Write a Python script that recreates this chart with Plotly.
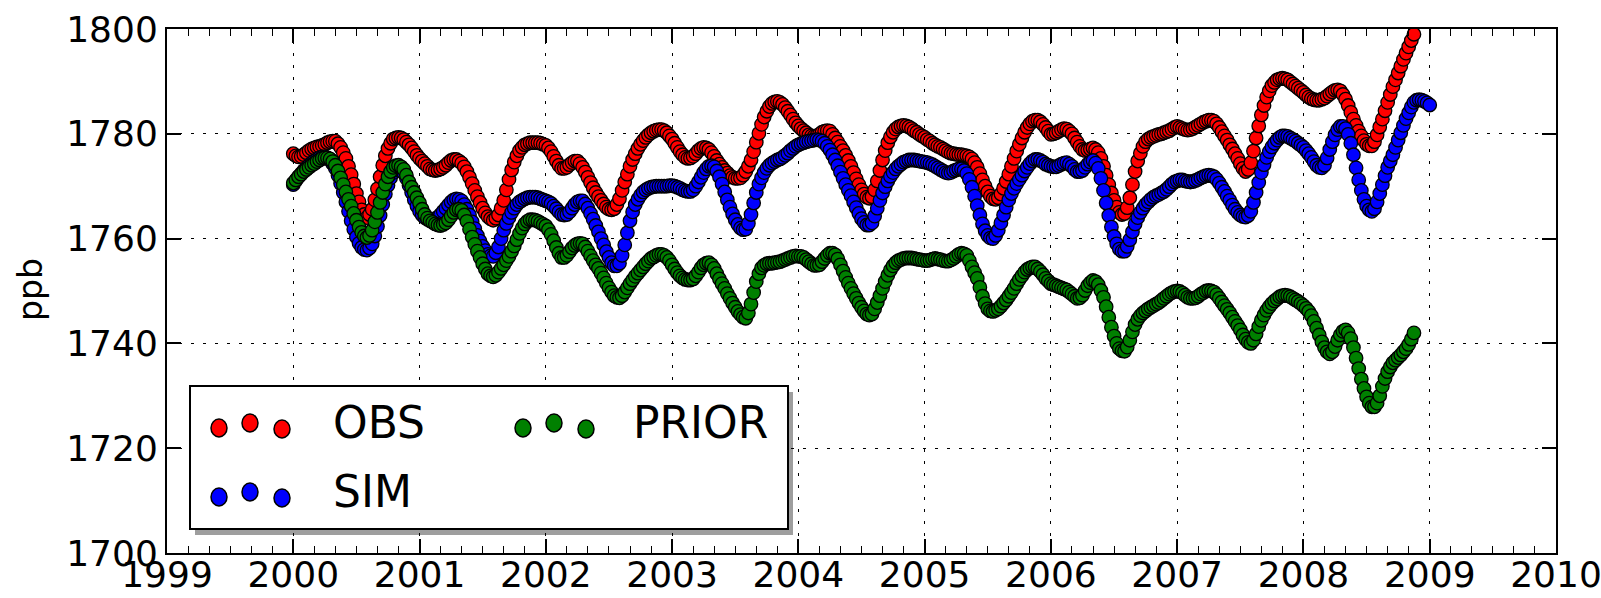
import plotly.graph_objects as go

# ---------------------------------------------------------------------------
# CH4 mole fractions (ppb), 48 samples per year, first sample at 2000.0
# ---------------------------------------------------------------------------
START_YEAR = 2000
SAMPLES_PER_YEAR = 48

obs_ppb = [
    # 2000
    1776.2, 1775.8, 1775.6, 1775.7, 1776.0, 1776.4, 1776.8, 1777.1, 1777.3, 1777.5, 1777.6, 1777.8,
    1778.0, 1778.3, 1778.5, 1778.6, 1778.6, 1778.1, 1777.4, 1776.4, 1775.3, 1773.8, 1772.2, 1770.4,
    1768.6, 1767.0, 1765.5, 1764.6, 1764.0, 1764.6, 1765.6, 1767.4, 1769.5, 1771.8, 1774.0, 1775.8,
    1777.2, 1778.2, 1779.0, 1779.2, 1779.3, 1779.2, 1778.9, 1778.4, 1777.9, 1777.3, 1776.6, 1775.9,
    # 2001
    1775.3, 1774.8, 1774.3, 1773.8, 1773.3, 1773.1, 1773.0, 1773.1, 1773.3, 1773.6, 1774.0, 1774.5,
    1774.9, 1775.1, 1775.1, 1774.8, 1774.4, 1773.7, 1772.8, 1771.7, 1770.5, 1769.2, 1768.0, 1766.9,
    1765.8, 1764.9, 1764.2, 1763.8, 1763.5, 1763.9, 1764.5, 1765.8, 1767.3, 1769.3, 1771.3, 1773.1,
    1774.6, 1775.8, 1776.8, 1777.4, 1777.9, 1778.1, 1778.3, 1778.3, 1778.3, 1778.3, 1778.2, 1778.0,
    # 2002
    1777.8, 1777.3, 1776.6, 1775.7, 1774.8, 1774.0, 1773.4, 1773.4, 1773.6, 1774.1, 1774.5, 1774.8,
    1774.8, 1774.3, 1773.6, 1772.7, 1771.7, 1770.7, 1769.7, 1768.8, 1768.0, 1767.3, 1766.6, 1766.0,
    1765.6, 1765.5, 1765.7, 1766.5, 1767.6, 1769.2, 1770.8, 1772.3, 1773.8, 1775.1, 1776.2, 1777.2,
    1778.0, 1778.7, 1779.3, 1779.8, 1780.2, 1780.5, 1780.7, 1780.8, 1780.8, 1780.6, 1780.2, 1779.6,
    # 2003
    1779.0, 1778.2, 1777.4, 1776.6, 1776.0, 1775.5, 1775.3, 1775.4, 1775.7, 1776.2, 1776.8, 1777.2,
    1777.4, 1777.3, 1777.0, 1776.4, 1775.7, 1774.9, 1774.2, 1773.6, 1773.0, 1772.5, 1772.0, 1771.7,
    1771.5, 1771.5, 1771.6, 1772.1, 1772.8, 1773.8, 1775.0, 1776.6, 1778.4, 1780.1, 1781.8, 1783.2,
    1784.3, 1785.2, 1785.8, 1786.1, 1786.2, 1786.0, 1785.6, 1785.0, 1784.3, 1783.6, 1782.8, 1782.1,
    # 2004
    1781.5, 1781.0, 1780.6, 1780.2, 1779.8, 1779.6, 1779.5, 1779.6, 1779.9, 1780.3, 1780.5, 1780.6,
    1780.5, 1779.9, 1779.2, 1778.4, 1777.6, 1776.8, 1775.9, 1774.9, 1773.8, 1772.6, 1771.4, 1770.3,
    1769.3, 1768.5, 1767.9, 1767.7, 1768.0, 1769.3, 1771.0, 1773.0, 1775.0, 1776.8, 1778.3, 1779.4,
    1780.3, 1780.9, 1781.3, 1781.5, 1781.6, 1781.5, 1781.3, 1781.0, 1780.6, 1780.3, 1779.9, 1779.6,
    # 2005
    1779.3, 1778.9, 1778.6, 1778.2, 1777.9, 1777.6, 1777.4, 1777.1, 1776.8, 1776.5, 1776.3, 1776.2,
    1776.1, 1776.0, 1776.0, 1775.9, 1775.8, 1775.6, 1775.2, 1774.5, 1773.6, 1772.4, 1771.2, 1770.0,
    1768.9, 1768.1, 1767.6, 1767.5, 1767.8, 1768.5, 1769.6, 1770.9, 1772.3, 1773.8, 1775.3, 1776.7,
    1778.0, 1779.2, 1780.3, 1781.2, 1781.9, 1782.4, 1782.6, 1782.6, 1782.3, 1781.8, 1781.2, 1780.5,
    # 2006
    1779.9, 1780.0, 1780.2, 1780.5, 1780.8, 1781.0, 1780.9, 1780.5, 1780.0, 1779.2, 1778.4, 1777.6,
    1777.0, 1776.8, 1776.9, 1777.1, 1777.3, 1777.0, 1776.4, 1775.3, 1773.8, 1772.1, 1770.3, 1768.7,
    1767.3, 1766.0, 1765.0, 1764.6, 1764.8, 1765.9, 1767.8, 1770.3, 1772.8, 1774.8, 1776.3, 1777.6,
    1778.5, 1779.0, 1779.3, 1779.5, 1779.7, 1779.9, 1780.0, 1780.2, 1780.4, 1780.6, 1780.9, 1781.2,
    # 2007
    1781.4, 1781.2, 1781.0, 1780.8, 1780.7, 1780.8, 1781.0, 1781.3, 1781.6, 1781.9, 1782.2, 1782.4,
    1782.6, 1782.6, 1782.4, 1781.9, 1781.2, 1780.4, 1779.6, 1778.8, 1777.9, 1777.1, 1776.2, 1775.3,
    1774.3, 1773.4, 1772.8, 1773.2, 1774.5, 1776.7, 1779.2, 1781.5, 1783.6, 1785.4, 1787.0, 1788.2,
    1789.2, 1789.8, 1790.3, 1790.5, 1790.6, 1790.5, 1790.3, 1789.9, 1789.5, 1789.1, 1788.7, 1788.3,
    # 2008
    1787.9, 1787.4, 1787.0, 1786.7, 1786.5, 1786.4, 1786.4, 1786.6, 1786.8, 1787.2, 1787.6, 1788.0,
    1788.3, 1788.4, 1788.2, 1787.5, 1786.6, 1785.4, 1784.1, 1782.8, 1781.6, 1780.5, 1779.6, 1778.7,
    1778.0, 1777.7, 1777.7, 1778.5, 1779.8, 1781.3, 1782.8, 1784.4, 1786.0, 1787.5, 1789.0, 1790.3,
    1791.6, 1792.9, 1794.2, 1795.4, 1796.6, 1797.8, 1799.0,
]

sim_ppb = [
    # 2000
    1770.3, 1771.1, 1771.8, 1772.4, 1773.0, 1773.5, 1774.0, 1774.4, 1774.8, 1775.1, 1775.4, 1775.6,
    1775.6, 1775.4, 1775.0, 1774.3, 1773.4, 1772.1, 1770.5, 1768.8, 1767.0, 1765.2, 1763.4, 1761.8,
    1760.3, 1759.1, 1758.3, 1757.9, 1757.8, 1758.2, 1759.0, 1760.5, 1762.3, 1764.4, 1766.5, 1768.5,
    1770.2, 1771.6, 1772.6, 1773.1, 1773.4, 1773.1, 1772.5, 1771.5, 1770.2, 1768.8, 1767.4, 1766.2,
    # 2001
    1765.2, 1764.5, 1764.0, 1763.7, 1763.6, 1763.6, 1763.8, 1764.1, 1764.6, 1765.2, 1765.8, 1766.4,
    1767.0, 1767.4, 1767.6, 1767.5, 1767.2, 1766.5, 1765.6, 1764.5, 1763.2, 1761.9, 1760.6, 1759.5,
    1758.5, 1757.7, 1757.0, 1756.7, 1756.6, 1757.3, 1758.4, 1760.0, 1761.6, 1762.9, 1764.0, 1765.0,
    1765.8, 1766.5, 1767.0, 1767.3, 1767.6, 1767.8, 1767.9, 1767.9, 1767.9, 1767.8, 1767.6, 1767.4,
    # 2002
    1767.2, 1767.0, 1766.7, 1766.2, 1765.7, 1765.1, 1764.6, 1764.5, 1764.6, 1765.1, 1765.8, 1766.5,
    1767.0, 1767.2, 1767.2, 1766.6, 1765.8, 1764.8, 1763.7, 1762.5, 1761.3, 1760.0, 1758.8, 1757.5,
    1756.4, 1755.4, 1754.8, 1754.8, 1755.3, 1756.8, 1758.8, 1761.1, 1763.4, 1765.1, 1766.5, 1767.5,
    1768.3, 1768.9, 1769.3, 1769.6, 1769.8, 1769.9, 1770.0, 1770.0, 1770.0, 1770.0, 1770.0, 1770.1,
    # 2003
    1770.1, 1770.0, 1769.8, 1769.6, 1769.3, 1769.1, 1769.0, 1769.0, 1769.3, 1770.0, 1770.8, 1771.7,
    1772.6, 1773.3, 1773.8, 1773.9, 1773.7, 1772.9, 1771.8, 1770.4, 1768.9, 1767.4, 1766.0, 1764.7,
    1763.6, 1762.7, 1762.0, 1761.7, 1761.8, 1762.9, 1764.6, 1766.8, 1768.8, 1770.4, 1771.6, 1772.6,
    1773.4, 1774.0, 1774.4, 1774.7, 1775.0, 1775.2, 1775.5, 1775.9, 1776.3, 1776.8, 1777.2, 1777.6,
    # 2004
    1777.9, 1778.1, 1778.3, 1778.5, 1778.6, 1778.7, 1778.8, 1778.9, 1778.8, 1778.6, 1778.2, 1777.6,
    1776.9, 1776.0, 1775.0, 1773.9, 1772.7, 1771.5, 1770.3, 1769.2, 1768.2, 1767.0, 1765.9, 1764.8,
    1763.8, 1763.1, 1762.6, 1762.6, 1763.0, 1764.3, 1765.8, 1767.3, 1768.7, 1769.9, 1771.0, 1771.9,
    1772.6, 1773.3, 1773.8, 1774.2, 1774.6, 1774.8, 1775.0, 1775.0, 1775.0, 1774.9, 1774.8, 1774.7,
    # 2005
    1774.6, 1774.5, 1774.3, 1774.1, 1773.8, 1773.5, 1773.2, 1772.9, 1772.6, 1772.5, 1772.6, 1772.9,
    1773.1, 1773.3, 1773.3, 1773.0, 1772.4, 1771.3, 1769.8, 1768.1, 1766.3, 1764.5, 1762.8, 1761.5,
    1760.6, 1760.1, 1760.0, 1760.6, 1761.6, 1763.0, 1764.5, 1766.0, 1767.4, 1768.6, 1769.6, 1770.5,
    1771.3, 1772.1, 1772.9, 1773.6, 1774.3, 1774.8, 1775.1, 1775.1, 1774.9, 1774.6, 1774.2, 1774.0,
    # 2006
    1773.8, 1773.7, 1773.7, 1773.9, 1774.2, 1774.4, 1774.5, 1774.2, 1773.8, 1773.2, 1772.8, 1772.8,
    1773.0, 1773.6, 1774.2, 1774.6, 1774.9, 1774.4, 1773.4, 1771.5, 1769.2, 1766.8, 1764.4, 1762.2,
    1760.4, 1759.0, 1758.0, 1757.6, 1757.6, 1758.5, 1759.8, 1761.3, 1762.8, 1764.0, 1765.0, 1765.8,
    1766.5, 1767.0, 1767.5, 1767.9, 1768.2, 1768.4, 1768.7, 1769.0, 1769.4, 1769.9, 1770.4, 1770.8,
    # 2007
    1771.0, 1771.2, 1771.2, 1771.0, 1770.9, 1770.8, 1770.9, 1771.1, 1771.3, 1771.6, 1771.8, 1772.0,
    1772.1, 1772.0, 1771.8, 1771.3, 1770.6, 1769.8, 1769.0, 1768.1, 1767.3, 1766.4, 1765.6, 1765.0,
    1764.5, 1764.2, 1764.1, 1764.4, 1765.2, 1766.9, 1768.8, 1770.7, 1772.6, 1774.1, 1775.5, 1776.6,
    1777.5, 1778.2, 1778.8, 1779.3, 1779.6, 1779.6, 1779.5, 1779.2, 1778.9, 1778.6, 1778.2, 1777.8,
    # 2008
    1777.4, 1776.8, 1776.2, 1775.5, 1774.7, 1774.0, 1773.6, 1773.5, 1774.0, 1775.4, 1777.0, 1778.5,
    1779.8, 1780.8, 1781.4, 1781.4, 1781.0, 1779.9, 1778.2, 1776.0, 1773.5, 1771.2, 1769.2, 1767.5,
    1766.2, 1765.5, 1765.2, 1765.7, 1767.0, 1768.6, 1770.3, 1772.0, 1773.6, 1774.8, 1776.0, 1777.4,
    1778.8, 1780.2, 1781.6, 1782.9, 1784.0, 1785.1, 1786.0, 1786.4, 1786.5, 1786.4, 1786.2, 1785.9,
    # 2009
    1785.5,
]

prior_ppb = [
    # 2000
    1770.6, 1771.2, 1771.8, 1772.3, 1772.8, 1773.2, 1773.6, 1774.0, 1774.3, 1774.7, 1775.0, 1775.3,
    1775.4, 1775.4, 1775.2, 1774.7, 1774.0, 1772.9, 1771.6, 1770.3, 1768.9, 1767.5, 1766.2, 1764.8,
    1763.5, 1762.2, 1761.2, 1760.5, 1760.2, 1760.6, 1761.6, 1763.2, 1765.0, 1766.9, 1768.8, 1770.4,
    1771.8, 1772.8, 1773.6, 1773.9, 1774.0, 1773.7, 1773.2, 1772.1, 1770.8, 1769.8, 1768.8, 1767.8,
    # 2001
    1766.8, 1765.6, 1764.6, 1763.9, 1763.4, 1763.1, 1762.8, 1762.6, 1762.5, 1762.7, 1763.0, 1763.6,
    1764.3, 1765.0, 1765.5, 1765.6, 1765.4, 1764.5, 1763.3, 1761.8, 1760.3, 1758.9, 1757.6, 1756.4,
    1755.2, 1754.2, 1753.3, 1752.9, 1752.7, 1753.0, 1753.6, 1754.3, 1755.0, 1755.8, 1756.6, 1757.6,
    1758.6, 1759.8, 1761.0, 1762.0, 1762.8, 1763.3, 1763.6, 1763.6, 1763.5, 1763.3, 1763.0, 1762.7,
    # 2002
    1762.4, 1761.7, 1760.8, 1759.6, 1758.3, 1757.2, 1756.4, 1756.4, 1756.8, 1757.5, 1758.2, 1758.7,
    1759.0, 1759.1, 1759.0, 1758.4, 1757.6, 1756.7, 1755.8, 1755.0, 1754.3, 1753.4, 1752.5, 1751.5,
    1750.6, 1749.8, 1749.1, 1748.8, 1748.7, 1749.1, 1749.8, 1750.6, 1751.4, 1752.1, 1752.8, 1753.4,
    1754.0, 1754.6, 1755.2, 1755.7, 1756.2, 1756.5, 1756.8, 1757.0, 1757.0, 1756.8, 1756.4, 1755.8,
    # 2003
    1755.0, 1754.2, 1753.5, 1752.9, 1752.5, 1752.2, 1752.1, 1752.1, 1752.3, 1752.9, 1753.6, 1754.4,
    1755.0, 1755.3, 1755.4, 1755.0, 1754.3, 1753.3, 1752.3, 1751.4, 1750.5, 1749.5, 1748.6, 1747.7,
    1746.9, 1746.1, 1745.5, 1745.0, 1744.8, 1745.8, 1747.5, 1749.7, 1751.8, 1753.3, 1754.4, 1754.9,
    1755.2, 1755.3, 1755.3, 1755.4, 1755.5, 1755.6, 1755.8, 1756.0, 1756.2, 1756.4, 1756.6, 1756.7,
    # 2004
    1756.6, 1756.6, 1756.4, 1756.0, 1755.6, 1755.2, 1754.9, 1754.9, 1755.0, 1755.6, 1756.2, 1756.8,
    1757.2, 1757.2, 1756.9, 1756.1, 1755.0, 1753.8, 1752.6, 1751.5, 1750.5, 1749.5, 1748.6, 1747.7,
    1746.9, 1746.2, 1745.6, 1745.4, 1745.6, 1746.6, 1747.8, 1749.1, 1750.5, 1751.8, 1753.0, 1754.0,
    1754.8, 1755.4, 1755.8, 1756.0, 1756.2, 1756.3, 1756.3, 1756.3, 1756.2, 1756.1, 1756.0, 1755.9,
    # 2005
    1755.8, 1755.8, 1755.9, 1756.1, 1756.2, 1756.1, 1756.0, 1755.8, 1755.7, 1755.7, 1755.9, 1756.2,
    1756.6, 1757.0, 1757.2, 1757.1, 1756.8, 1755.8, 1754.6, 1753.5, 1752.4, 1750.7, 1749.0, 1747.6,
    1746.6, 1746.2, 1746.1, 1746.3, 1746.6, 1747.1, 1747.7, 1748.3, 1749.0, 1749.7, 1750.5, 1751.4,
    1752.2, 1752.9, 1753.6, 1754.1, 1754.4, 1754.6, 1754.6, 1754.2, 1753.7, 1753.1, 1752.4, 1751.9,
    # 2006
    1751.4, 1751.2, 1751.0, 1750.8, 1750.6, 1750.4, 1750.2, 1749.8, 1749.4, 1749.0, 1748.6, 1748.7,
    1749.2, 1750.1, 1751.0, 1751.6, 1752.0, 1751.8, 1751.2, 1750.1, 1748.8, 1747.0, 1745.0, 1743.1,
    1741.4, 1740.0, 1739.0, 1738.6, 1738.5, 1739.3, 1740.6, 1742.2, 1743.6, 1744.6, 1745.3, 1745.8,
    1746.2, 1746.6, 1746.9, 1747.2, 1747.5, 1747.8, 1748.2, 1748.6, 1749.0, 1749.4, 1749.7, 1749.9,
    # 2007
    1750.0, 1749.9, 1749.6, 1749.2, 1748.8, 1748.6, 1748.6, 1748.7, 1749.0, 1749.4, 1749.7, 1750.0,
    1750.1, 1750.0, 1749.8, 1749.3, 1748.6, 1747.9, 1747.2, 1746.5, 1745.8, 1745.0, 1744.2, 1743.4,
    1742.6, 1741.6, 1740.8, 1740.2, 1740.0, 1740.6, 1741.8, 1743.2, 1744.4, 1745.4, 1746.3, 1747.0,
    1747.6, 1748.1, 1748.5, 1748.9, 1749.1, 1749.2, 1749.1, 1748.9, 1748.6, 1748.3, 1748.0, 1747.6,
    # 2008
    1747.2, 1746.7, 1746.1, 1745.3, 1744.2, 1742.9, 1741.6, 1740.3, 1739.2, 1738.4, 1738.0, 1738.4,
    1739.4, 1740.6, 1741.6, 1742.3, 1742.6, 1742.0, 1740.9, 1739.2, 1737.2, 1735.2, 1733.2, 1731.4,
    1729.8, 1728.6, 1727.9, 1727.9, 1728.6, 1730.0, 1731.8, 1733.3, 1734.6, 1735.5, 1736.3, 1736.8,
    1737.3, 1737.8, 1738.4, 1739.0, 1739.8, 1740.8, 1742.0,
]

series_names = ["OBS", "SIM", "PRIOR"]
series_colors = ["#ff0000", "#0000ff", "#008000"]
series_values = [obs_ppb, sim_ppb, prior_ppb]

x_ticks = list(range(1999, 2011))
y_ticks = list(range(1700, 1801, 20))


def decimal_years(values):
    return [START_YEAR + i / SAMPLES_PER_YEAR for i in range(len(values))]


# ---------------------------------------------------------------------------
# Figure geometry (pixels)
# ---------------------------------------------------------------------------
W, H = 1601, 598
PLOT_L, PLOT_R, PLOT_T, PLOT_B = 167, 1556, 29, 553
FONT = "DejaVu Sans"


def px_x(px):
    return (px - PLOT_L) / (PLOT_R - PLOT_L)


def px_y(py):
    return (PLOT_B - py) / (PLOT_B - PLOT_T)


fig = go.Figure()

for name, color, vals in zip(series_names, series_colors, series_values):
    fig.add_trace(go.Scatter(
        x=decimal_years(vals), y=vals, mode="markers", name=name,
        showlegend=False,
        marker=dict(size=13.5, color=color, line=dict(color="black", width=1.3)),
    ))

axis_common = dict(
    showline=True, linecolor="black", linewidth=2, mirror="allticks",
    ticks="inside", ticklen=14, tickwidth=1.5, tickcolor="black",
    showgrid=True, gridcolor="black", gridwidth=1, griddash="3px,9px",
    zeroline=False, tickfont=dict(family=FONT, size=36, color="black"),
    tickformat="d", automargin=False, ticklabeloverflow="allow",
)

fig.update_xaxes(
    range=[x_ticks[0], x_ticks[-1]], tickmode="array", tickvals=x_ticks,
    ticktext=[str(v) for v in x_ticks], ticklabelstandoff=-11,
    minor=dict(tickmode="linear", tick0=x_ticks[0], dtick=1 / 6, ticks="inside",
               ticklen=7, tickwidth=1, tickcolor="black", showgrid=False),
    **axis_common,
)
fig.update_yaxes(
    range=[y_ticks[0], y_ticks[-1]], tickmode="array", tickvals=y_ticks,
    ticktext=[str(v) for v in y_ticks],
    **axis_common,
)

# ---------------------------------------------------------------------------
# Legend: framed box with drop shadow, three sample points per entry
# ---------------------------------------------------------------------------
BOX_L, BOX_R, BOX_T, BOX_B = 190, 788, 386, 529
SHADOW_DX, SHADOW_DY = 5, 6
shapes = [
    dict(type="rect", xref="paper", yref="paper", layer="above",
         x0=px_x(BOX_L + SHADOW_DX), x1=px_x(BOX_R + SHADOW_DX),
         y0=px_y(BOX_B + SHADOW_DY), y1=px_y(BOX_T + SHADOW_DY),
         fillcolor="rgba(0,0,0,0.38)", line=dict(width=0)),
    dict(type="rect", xref="paper", yref="paper", layer="above",
         x0=px_x(BOX_L), x1=px_x(BOX_R), y0=px_y(BOX_B), y1=px_y(BOX_T),
         fillcolor="white", line=dict(color="black", width=2)),
]

# (marker x positions, row y, small vertical offsets of the three samples, text x)
legend_rows = [
    ([219, 250, 282], 424, [4, -1, 5], 331),   # OBS
    ([219, 250, 282], 493, [4, -1, 5], 331),   # SIM
    ([523, 554, 586], 424, [4, -1, 5], 631),   # PRIOR
]
annotations = []
for (xs, yrow, offs, tx), name, color in zip(legend_rows, series_names, series_colors):
    for cx, dy in zip(xs, offs):
        shapes.append(dict(
            type="circle", xref="paper", yref="paper", layer="above",
            xsizemode="pixel", ysizemode="pixel",
            xanchor=px_x(cx), yanchor=px_y(yrow + dy),
            x0=-8, x1=8, y0=-9, y1=9,
            fillcolor=color, line=dict(color="black", width=1.5),
        ))
    annotations.append(dict(
        xref="paper", yref="paper", x=px_x(tx), y=px_y(yrow - 2),
        xanchor="left", yanchor="middle", showarrow=False, text=name,
        font=dict(family=FONT, size=44, color="black"),
    ))

# y-axis title
annotations.append(dict(
    xref="paper", yref="paper", x=px_x(30), y=px_y(290),
    xanchor="center", yanchor="middle", showarrow=False, text="ppb",
    textangle=-90, font=dict(family=FONT, size=33, color="black"),
))

fig.update_layout(
    width=W, height=H, autosize=False,
    margin=dict(l=PLOT_L, r=W - PLOT_R, t=PLOT_T, b=H - PLOT_B, pad=0),
    paper_bgcolor="white", plot_bgcolor="white",
    shapes=shapes, annotations=annotations, showlegend=False,
)

fig.write_html("out.html", config={"displayModeBar": False})
